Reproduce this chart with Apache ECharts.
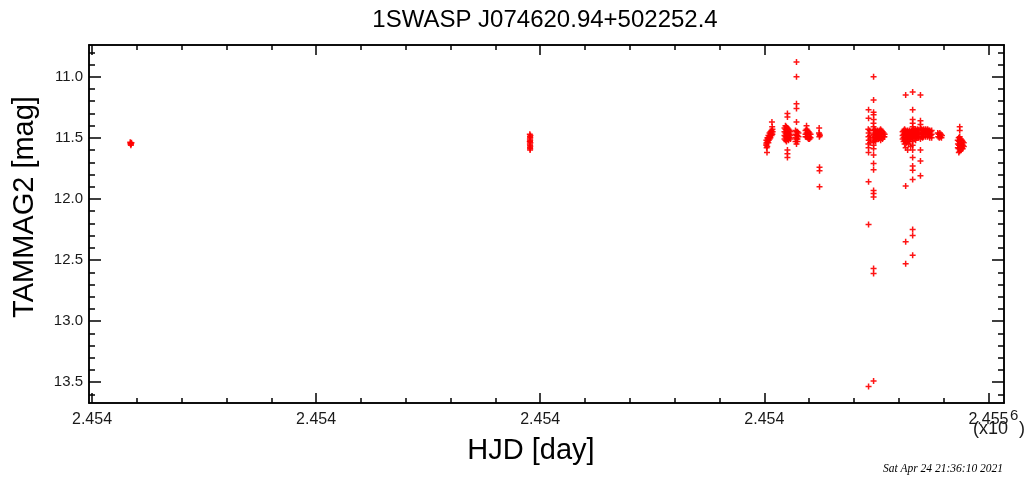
<!DOCTYPE html>
<html>
<head>
<meta charset="utf-8">
<script src="https://cdn.jsdelivr.net/npm/echarts@6/dist/echarts.min.js"></script>
<style>
  html, body { margin: 0; padding: 0; background: #fff; }
  #chart { width: 1030px; height: 477px; }
</style>
</head>
<body>
<div id="chart"></div>
<script>
// Light curve of 1SWASP J074620.94+502252.4: TAMMAG2 against HJD.
const titleText = '1SWASP J074620.94+502252.4';
const xName = 'HJD [day]';
const yName = 'TAMMAG2 [mag]';
const stampText = 'Sat Apr 24 21:36:10 2021';

const xRange = [2453496.6, 2454517.4];
const yRange = [10.74, 13.67];
const xTickValues = [2453500, 2453750, 2454000, 2454250, 2454500];
const xTickLabels = ['2.454', '2.454', '2.454', '2.454', '2.455'];
const yTickValues = [11.0, 11.5, 12.0, 12.5, 13.0, 13.5];
const yTickLabels = ['11.0', '11.5', '12.0', '12.5', '13.0', '13.5'];

// [HJD, TAMMAG2] pairs, one array per observing run
const run1 = [
  [2453542.6, 11.535], [2453543.1, 11.545], [2453543.5, 11.55], [2453544.0, 11.54],
  [2453543.3, 11.56], [2453542.9, 11.55]
];
const run2 = [
  [2453988.4, 11.47], [2453988.6, 11.49], [2453988.9, 11.50], [2453988.5, 11.51],
  [2453988.8, 11.52], [2453988.6, 11.53], [2453989.0, 11.54], [2453988.5, 11.55],
  [2453988.7, 11.56], [2453988.9, 11.57], [2453988.6, 11.58], [2453988.8, 11.59],
  [2453988.7, 11.60], [2453989.1, 11.48], [2453988.3, 11.53]
];
const run3a = [
  [2454252.3, 11.52], [2454252.5, 11.54], [2454252.2, 11.56], [2454252.6, 11.58], [2454252.4, 11.55],
  [2454253.5, 11.50], [2454253.6, 11.53], [2454253.3, 11.57], [2454253.8, 11.51], [2454253.0, 11.62],
  [2454254.6, 11.48], [2454254.7, 11.50], [2454254.5, 11.54], [2454254.9, 11.52],
  [2454255.8, 11.46], [2454255.7, 11.49], [2454255.9, 11.51],
  [2454256.9, 11.45], [2454257.0, 11.47], [2454256.8, 11.50],
  [2454258.0, 11.44], [2454258.2, 11.46], [2454258.1, 11.48],
  [2454259.1, 11.43], [2454259.3, 11.45], [2454259.0, 11.47],
  [2454258.5, 11.37], [2454258.8, 11.41],
  [2454272.5, 11.42], [2454272.5, 11.45], [2454272.5, 11.48], [2454272.5, 11.51],
  [2454273.6, 11.40], [2454273.6, 11.43], [2454273.6, 11.46], [2454273.6, 11.49], [2454273.6, 11.52],
  [2454274.7, 11.41], [2454274.7, 11.44], [2454274.7, 11.47], [2454274.7, 11.50], [2454274.7, 11.53],
  [2454275.8, 11.42], [2454275.8, 11.45], [2454275.8, 11.48], [2454275.8, 11.51],
  [2454275.8, 11.30], [2454275.8, 11.33], [2454275.8, 11.60], [2454275.8, 11.63], [2454275.8, 11.66],
  [2454276.9, 11.43], [2454276.9, 11.46], [2454276.9, 11.49], [2454276.9, 11.52],
  [2454278.1, 11.44], [2454278.1, 11.47], [2454278.1, 11.50],
  [2454279.2, 11.45], [2454279.2, 11.48], [2454279.2, 11.51],
  [2454284.8, 11.44], [2454284.8, 11.47], [2454284.8, 11.50], [2454284.8, 11.53],
  [2454285.9, 10.88], [2454285.9, 11.00], [2454285.9, 11.22], [2454285.9, 11.26], [2454285.9, 11.37],
  [2454285.9, 11.45], [2454285.9, 11.48], [2454285.9, 11.51], [2454285.9, 11.55],
  [2454287.0, 11.45], [2454287.0, 11.48], [2454287.0, 11.51], [2454287.0, 11.53],
  [2454288.1, 11.46], [2454288.1, 11.49],
  [2454296.0, 11.44], [2454296.0, 11.47], [2454296.0, 11.49],
  [2454297.1, 11.43], [2454297.1, 11.46], [2454297.1, 11.49], [2454297.1, 11.40],
  [2454298.2, 11.44], [2454298.2, 11.47], [2454298.2, 11.50],
  [2454299.3, 11.45], [2454299.3, 11.48], [2454299.3, 11.51],
  [2454300.4, 11.46], [2454300.4, 11.49], [2454300.4, 11.51],
  [2454301.6, 11.47], [2454301.6, 11.50],
  [2454311.2, 11.42], [2454311.0, 11.46], [2454311.6, 11.47], [2454312.0, 11.48],
  [2454311.4, 11.49], [2454311.6, 11.74], [2454311.6, 11.77], [2454311.6, 11.90]
];
const run3b = [
  [2454366.3, 11.27], [2454366.3, 11.34], [2454366.0, 11.43], [2454366.4, 11.46], [2454366.2, 11.49],
  [2454366.5, 11.52], [2454366.1, 11.55], [2454366.3, 11.58], [2454366.3, 11.62], [2454366.3, 11.86],
  [2454366.3, 12.21], [2454366.3, 13.535],
  [2454367.6, 11.44], [2454367.8, 11.48], [2454368.2, 11.51], [2454368.0, 11.54],
  [2454371.9, 11.00], [2454371.9, 11.19], [2454371.9, 11.29], [2454371.9, 11.31], [2454372.0, 11.35],
  [2454371.8, 11.38], [2454371.9, 11.41], [2454371.9, 11.44], [2454372.1, 11.47], [2454371.7, 11.50],
  [2454372.0, 11.53], [2454371.9, 11.56], [2454371.9, 11.59], [2454371.9, 11.64], [2454371.9, 11.71],
  [2454371.9, 11.76], [2454371.9, 11.93], [2454371.9, 11.955], [2454371.9, 11.985],
  [2454371.9, 12.57], [2454371.9, 12.61], [2454371.9, 13.49],
  [2454373.0, 11.43], [2454373.0, 11.46], [2454373.2, 11.49], [2454372.9, 11.52],
  [2454374.1, 11.44], [2454374.3, 11.47], [2454374.0, 11.50], [2454374.2, 11.53],
  [2454375.2, 11.45], [2454375.4, 11.48], [2454375.1, 11.51],
  [2454376.3, 11.44], [2454376.5, 11.47], [2454376.2, 11.50],
  [2454377.5, 11.45], [2454377.3, 11.48], [2454377.6, 11.51],
  [2454378.6, 11.44], [2454378.8, 11.47], [2454378.5, 11.50],
  [2454379.7, 11.43], [2454379.9, 11.46], [2454379.6, 11.49], [2454379.8, 11.52],
  [2454380.8, 11.44], [2454381.0, 11.47], [2454380.7, 11.50],
  [2454381.9, 11.45], [2454382.1, 11.48], [2454381.8, 11.51],
  [2454383.1, 11.46], [2454383.3, 11.49], [2454384.2, 11.47], [2454384.0, 11.49]
];
const run3c = [
  [2454404.3, 11.45], [2454404.3, 11.48], [2454404.3, 11.51],
  [2454405.4, 11.44], [2454405.4, 11.47], [2454405.4, 11.50], [2454405.4, 11.53],
  [2454406.5, 11.43], [2454406.5, 11.46], [2454406.5, 11.49], [2454406.5, 11.52], [2454406.5, 11.55],
  [2454407.7, 11.15], [2454407.7, 11.44], [2454407.7, 11.47], [2454407.7, 11.50], [2454407.7, 11.53],
  [2454407.7, 11.58], [2454407.7, 11.895], [2454407.7, 12.35], [2454407.7, 12.53],
  [2454408.8, 11.45], [2454408.8, 11.48], [2454408.8, 11.51], [2454408.8, 11.54],
  [2454409.9, 11.44], [2454409.9, 11.47], [2454409.9, 11.50], [2454409.9, 11.53], [2454409.9, 11.60],
  [2454411.0, 11.45], [2454411.0, 11.48], [2454411.0, 11.51], [2454411.0, 11.55],
  [2454412.1, 11.44], [2454412.1, 11.47], [2454412.1, 11.50], [2454412.1, 11.53],
  [2454413.2, 11.45], [2454413.2, 11.48], [2454413.2, 11.51], [2454413.2, 11.57],
  [2454414.4, 11.44], [2454414.4, 11.47], [2454414.4, 11.50],
  [2454415.5, 11.125], [2454415.5, 11.27], [2454415.5, 11.35], [2454415.5, 11.38], [2454415.5, 11.41],
  [2454415.5, 11.44], [2454415.5, 11.47], [2454415.5, 11.50], [2454415.5, 11.53], [2454415.5, 11.56],
  [2454415.5, 11.60], [2454415.5, 11.66], [2454415.5, 11.73], [2454415.5, 11.765], [2454415.5, 11.84],
  [2454415.5, 12.25], [2454415.5, 12.30], [2454415.5, 12.46],
  [2454416.6, 11.43], [2454416.6, 11.46], [2454416.6, 11.49],
  [2454417.7, 11.44], [2454417.7, 11.47], [2454417.7, 11.50],
  [2454418.8, 11.43], [2454418.8, 11.46], [2454418.8, 11.49], [2454418.8, 11.52],
  [2454419.9, 11.44], [2454419.9, 11.47], [2454419.9, 11.50],
  [2454421.1, 11.43], [2454421.1, 11.46], [2454421.1, 11.49],
  [2454422.2, 11.44], [2454422.2, 11.47], [2454422.2, 11.50],
  [2454424.2, 11.15], [2454424.2, 11.36], [2454424.2, 11.39], [2454424.2, 11.42], [2454424.2, 11.45],
  [2454424.2, 11.48], [2454424.2, 11.51], [2454424.2, 11.60], [2454424.2, 11.69], [2454424.2, 11.81],
  [2454425.5, 11.43], [2454425.5, 11.46], [2454425.5, 11.49],
  [2454426.6, 11.44], [2454426.6, 11.47], [2454426.6, 11.50],
  [2454427.8, 11.43], [2454427.8, 11.46], [2454427.8, 11.49],
  [2454428.9, 11.44], [2454428.9, 11.47],
  [2454430.0, 11.43], [2454430.0, 11.46], [2454430.0, 11.49],
  [2454431.1, 11.44], [2454431.1, 11.47],
  [2454432.2, 11.43], [2454432.2, 11.46], [2454432.2, 11.49],
  [2454433.3, 11.44], [2454433.3, 11.47],
  [2454434.5, 11.44], [2454434.5, 11.47], [2454434.5, 11.50],
  [2454435.6, 11.45], [2454435.6, 11.48],
  [2454436.7, 11.44], [2454436.7, 11.47], [2454436.7, 11.50],
  [2454443.5, 11.46], [2454444.0, 11.49], [2454444.6, 11.47], [2454445.2, 11.50], [2454445.8, 11.46],
  [2454446.4, 11.49], [2454447.0, 11.47], [2454447.6, 11.50], [2454448.2, 11.48],
  [2454465.8, 11.52], [2454466.0, 11.55], [2454465.9, 11.58],
  [2454466.9, 11.50], [2454467.0, 11.53], [2454467.1, 11.56], [2454466.8, 11.59], [2454467.0, 11.62],
  [2454468.0, 11.41], [2454468.0, 11.44], [2454468.0, 11.49], [2454468.1, 11.52], [2454467.9, 11.55],
  [2454468.2, 11.58], [2454468.0, 11.61],
  [2454469.1, 11.51], [2454469.2, 11.54], [2454469.0, 11.57], [2454469.3, 11.60],
  [2454470.3, 11.52], [2454470.2, 11.55], [2454470.4, 11.58],
  [2454471.4, 11.53], [2454471.5, 11.56], [2454471.3, 11.59],
  [2454472.5, 11.54], [2454472.6, 11.57]
];

// minor tick positions between the labelled ticks
function minorTicks(start, stop, step, majors) {
  const out = [];
  const n = Math.round((stop - start) / step);
  for (let i = 0; i <= n; i++) {
    const v = +(start + i * step).toFixed(6);
    if (!majors.some(m => Math.abs(m - v) < step / 10)) out.push(v);
  }
  return out;
}
const xMinor = minorTicks(2453550, 2454500, 50, xTickValues);
const yMinor = minorTicks(10.8, 13.6, 0.1, yTickValues);

const frame = { color: '#000', width: 1.5 };
const sans = '"Liberation Sans", Arial, sans-serif';

function pickLabel(values, labels, v) {
  let best = 0;
  values.forEach((t, i) => { if (Math.abs(t - v) < Math.abs(values[best] - v)) best = i; });
  return labels[best];
}

function xAxisDef(position, ticks, len, labelled) {
  return {
    type: 'value', position, min: xRange[0], max: xRange[1],
    axisLine: { show: true, onZero: false, lineStyle: frame },
    axisTick: { show: true, inside: true, length: len, customValues: ticks, lineStyle: frame },
    axisLabel: labelled ? {
      show: true, margin: 9, customValues: xTickValues,
      color: '#1a1a1a', fontSize: 16, fontFamily: sans,
      formatter: v => pickLabel(xTickValues, xTickLabels, v)
    } : { show: false },
    splitLine: { show: false }
  };
}
function yAxisDef(position, ticks, len, labelled) {
  return {
    type: 'value', position, inverse: true, min: yRange[0], max: yRange[1],
    axisLine: { show: true, onZero: false, lineStyle: frame },
    axisTick: { show: true, inside: true, length: len, customValues: ticks, lineStyle: frame },
    axisLabel: labelled ? {
      show: true, margin: 6, customValues: yTickValues,
      color: '#1a1a1a', fontSize: 15, fontFamily: sans,
      formatter: v => pickLabel(yTickValues, yTickLabels, v)
    } : { show: false },
    splitLine: { show: false }
  };
}

const plusMark = 'path://M2.25,0H3.75V2.25H6V3.75H3.75V6H2.25V3.75H0V2.25H2.25Z';
const markStyle = (data) => ({
  type: 'scatter', xAxisIndex: 0, yAxisIndex: 0, data,
  symbol: plusMark, symbolSize: 6,
  itemStyle: { color: '#ff0000', opacity: 0.92 },
  silent: true
});

const chart = echarts.init(document.getElementById('chart'), null, { renderer: 'canvas' });
chart.setOption({
  animation: false,
  backgroundColor: '#ffffff',
  grid: { left: 89, right: 26, top: 45, bottom: 74, outerBoundsMode: 'none' },
  xAxis: [
    xAxisDef('bottom', xTickValues, 10, true),
    xAxisDef('bottom', xMinor, 5, false),
    xAxisDef('top', xTickValues, 10, false),
    xAxisDef('top', xMinor, 5, false)
  ],
  yAxis: [
    yAxisDef('left', yTickValues, 12, true),
    yAxisDef('left', yMinor, 6, false),
    yAxisDef('right', yTickValues, 12, false),
    yAxisDef('right', yMinor, 6, false)
  ],
  series: [run1, run2, run3a, run3b, run3c].map(markStyle),
  graphic: [
    { type: 'text', x: 545, y: 20, style: { text: titleText, fill: '#000', font: '24px ' + sans, align: 'center', verticalAlign: 'middle' } },
    { type: 'text', x: 531, y: 451, style: { text: xName, fill: '#000', font: '29px ' + sans, align: 'center', verticalAlign: 'middle' } },
    { type: 'text', x: 25, y: 207, rotation: Math.PI / 2, style: { text: yName, fill: '#000', font: '29px ' + sans, align: 'center', verticalAlign: 'middle' } },
    { type: 'text', x: 973, y: 429, style: { text: '(x10', fill: '#1a1a1a', font: '18px ' + sans, align: 'left', verticalAlign: 'middle' } },
    { type: 'text', x: 1010, y: 416, style: { text: '6', fill: '#1a1a1a', font: '15px ' + sans, align: 'left', verticalAlign: 'middle' } },
    { type: 'text', x: 1019, y: 429, style: { text: ')', fill: '#1a1a1a', font: '18px ' + sans, align: 'left', verticalAlign: 'middle' } },
    { type: 'text', x: 1003, y: 469, style: { text: stampText, fill: '#000', font: 'italic 11.5px "Liberation Serif", "Times New Roman", serif', align: 'right', verticalAlign: 'middle' } }
  ]
});
</script>
</body>
</html>
